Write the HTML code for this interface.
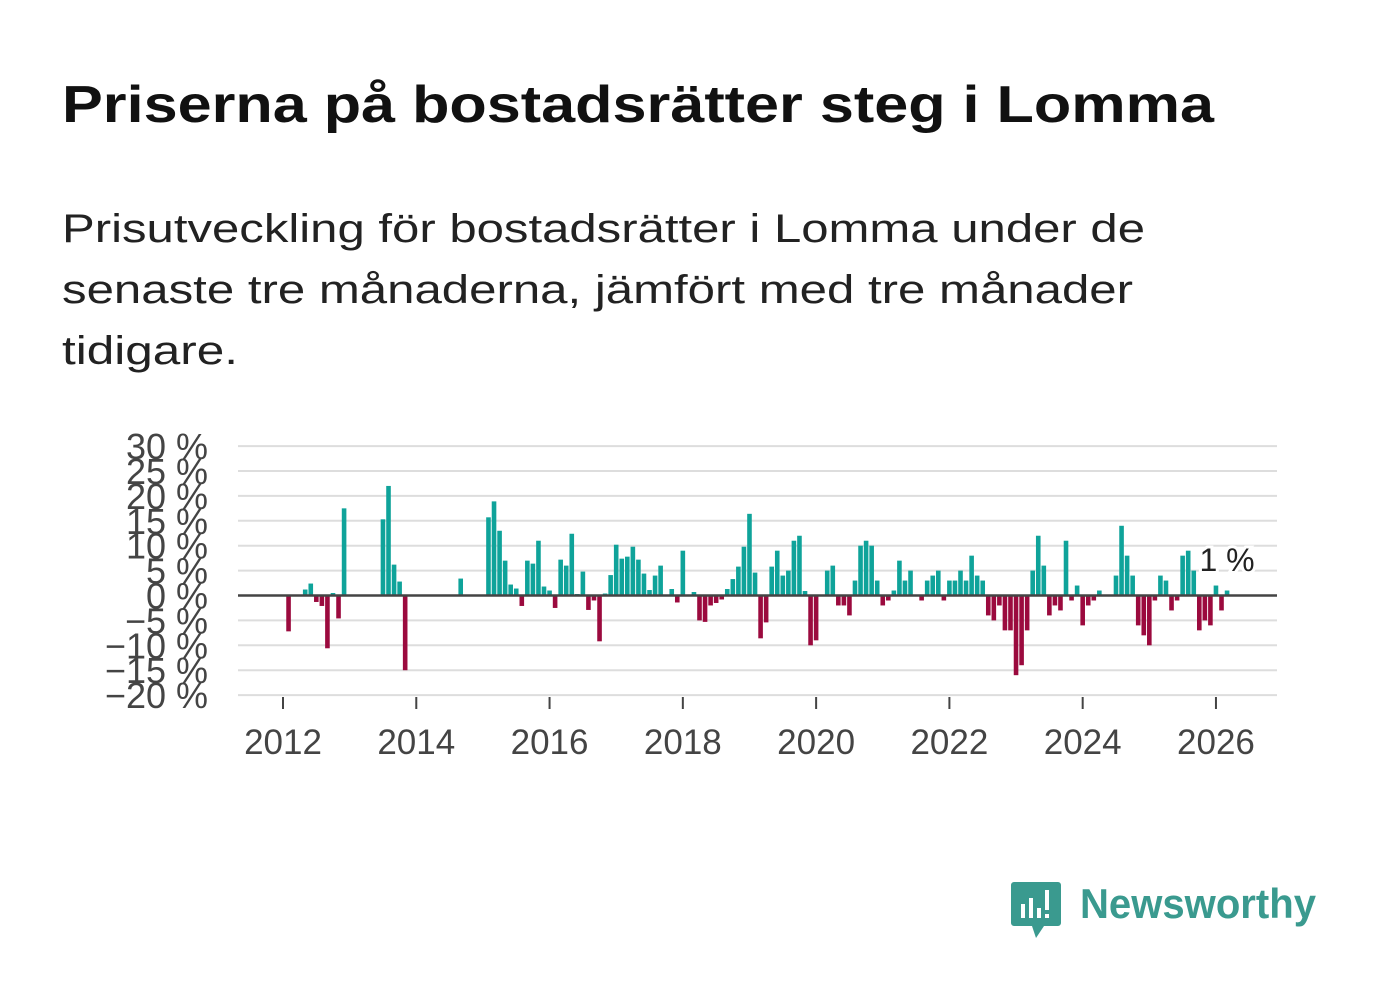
<!DOCTYPE html>
<html><head><meta charset="utf-8"><style>
html,body{margin:0;padding:0;background:#fff;}
svg{display:block;font-family:"Liberation Sans",sans-serif;}
</style></head><body>
<svg width="1382" height="999" viewBox="0 0 1382 999">
<text x="62" y="122" font-size="52" font-weight="bold" fill="#111" textLength="1152" lengthAdjust="spacingAndGlyphs">Priserna på bostadsrätter steg i Lomma</text>
<g font-size="40" fill="#222">
<text x="62" y="242" textLength="1083" lengthAdjust="spacingAndGlyphs">Prisutveckling för bostadsrätter i Lomma under de</text>
<text x="62" y="303" textLength="1071" lengthAdjust="spacingAndGlyphs">senaste tre månaderna, jämfört med tre månader</text>
<text x="62" y="364" textLength="176" lengthAdjust="spacingAndGlyphs">tidigare.</text>
</g>
<g id="grid"></g>
<g id="ylabels"></g>
<g id="bars"></g>
<line id="zero" stroke="#444" stroke-width="2.5"></line>
<g id="xaxis"></g>
<g id="annot"></g>
<g>
<path d="M1014 882 h44 a3 3 0 0 1 3 3 v38 a3 3 0 0 1 -3 3 h-14 l-8 12 l-4 -12 h-18 a3 3 0 0 1 -3 -3 v-38 a3 3 0 0 1 3 -3z" fill="#3a9a8f"/>
<rect x="1021" y="904" width="4" height="14" fill="#fff"/>
<rect x="1029" y="898" width="4" height="20" fill="#fff"/>
<rect x="1037" y="908" width="4" height="10" fill="#fff"/>
<rect x="1045" y="890" width="4" height="20" fill="#fff"/>
<rect x="1045" y="914" width="4" height="4" fill="#fff"/>
<text x="1080" y="918" font-size="42" font-weight="bold" fill="#3a9a8f" textLength="236" lengthAdjust="spacingAndGlyphs">Newsworthy</text>
</g>
</svg>
<script>
const values = [0,-7.2,0,0,1.2,2.4,-1.3,-2.1,-10.6,0.5,-4.6,17.5,
0,0,0,0,0,0,15.3,22,6.2,2.8,-15,
0,0,0,0,0,0,0,0,0,3.4,0,0,0,0,
15.7,18.9,13,7,2.2,1.4,-2.1,7,6.4,11,1.8,1,-2.5,7.2,6,12.4,0.3,4.8,-2.9,-1,-9.2,0.4,4.1,
10.2,7.4,7.8,9.8,7.2,4.4,1.1,4,6,0,1.3,-1.4,9,0,0.7,-5,-5.3,-2,-1.5,-0.8,1.3,3.3,5.8,9.8,
16.4,4.6,-8.6,-5.4,5.8,9,4,5,11,12,0.9,-10,-9,0,5,6,-2,-2,-4,3,10,11,10,3,-2,-1,1,7,3,5,0,-1,3,
4,5,-1,3,3,5,3,8,4,3,-4,-5,-2,-7,-7,-16,-14,-7,5,12,6,-4,-2,-3,11,-1,2,-6,-2,-1,
1,0,0,4,14,8,4,-6,-8,-10,-1,4,3,-3,-1,8,9,5,-7,-5,-6,2,-3,1];
const startYear = 2012;
const yTicks = [30,25,20,15,10,5,0,-5,-10,-15,-20];
const xTickYears = [2012,2014,2016,2018,2020,2022,2024,2026];
const lastLabel = "1 %";

const NS="http://www.w3.org/2000/svg";
const X0=238,X1=1277;
function y(v){return 595.5 - v*4.98;}
function x(monthIndex){return 283 + monthIndex*(66.64/12);}
function mk(t,a,p){const e=document.createElementNS(NS,t);for(const k in a)e.setAttribute(k,a[k]);p.appendChild(e);return e;}
const grid=document.getElementById('grid'),yl=document.getElementById('ylabels');
yTicks.forEach(v=>{
  const l=mk('line',{x1:X0,x2:X1,y1:y(v),y2:y(v),stroke:'#ddd','stroke-width':2},grid);
  
  
  const t=mk('text',{x:208,y:y(v)+13,'text-anchor':'end','font-size':36,fill:'#444'},yl);
  t.textContent=(v<0?'\u2212'+(-v):v)+' %';
  
  
});
const bars=document.getElementById('bars');
values.forEach((v,i)=>{
  const cx=x(i), top=Math.min(y(v),y(0)), h=Math.abs(y(v)-y(0));
  const r=mk('rect',{x:cx-2.3,y:top,width:4.6,height:h,fill:v>=0?'#0fa39a':'#9b0a3e'},bars);
  
  
});
const z=document.getElementById('zero');
z.setAttribute('x1',X0);z.setAttribute('x2',X1);z.setAttribute('y1',y(0));z.setAttribute('y2',y(0));
const xa=document.getElementById('xaxis');
xTickYears.forEach(yr=>{
  const px=x((yr-startYear)*12);
  const tk=mk('line',{x1:px,x2:px,y1:697,y2:709,stroke:'#444','stroke-width':2},xa);
  
  
  const t=mk('text',{x:px,y:754,'text-anchor':'middle','font-size':35,fill:'#444'},xa);
  t.textContent=yr;
  
  
});
const an=document.getElementById('annot');
const lx=x(values.length-1);
const at=mk('text',{x:lx,y:571,'text-anchor':'middle','font-size':32,fill:'#222',stroke:'#fff','stroke-width':6,'paint-order':'stroke'},an);
at.textContent=lastLabel;


</script>
</body></html>
